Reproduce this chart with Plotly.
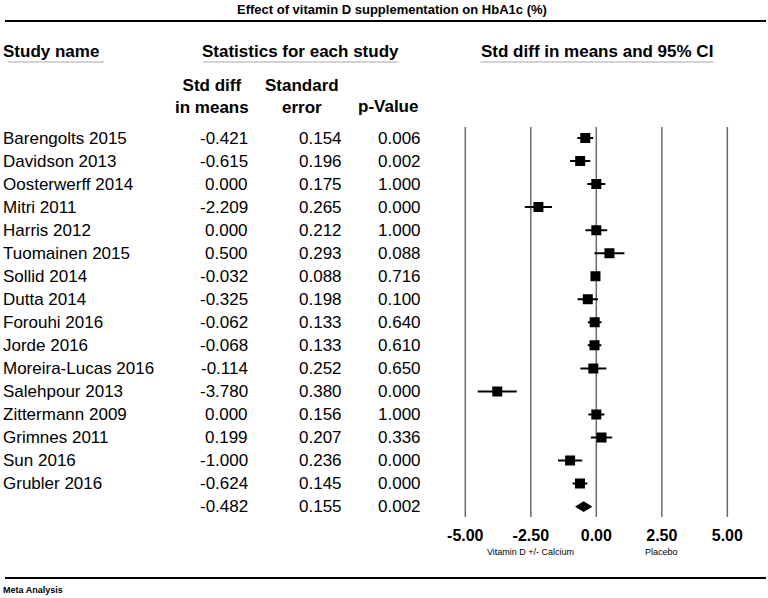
import plotly.graph_objects as go

# ---------------- data ----------------
studies = ["Barengolts 2015", "Davidson 2013", "Oosterwerff 2014", "Mitri 2011",
           "Harris 2012", "Tuomainen 2015", "Sollid 2014", "Dutta 2014",
           "Forouhi 2016", "Jorde 2016", "Moreira-Lucas 2016", "Salehpour 2013",
           "Zittermann 2009", "Grimnes 2011", "Sun 2016", "Grubler 2016"]
smd = [-0.421, -0.615, 0.000, -2.209, 0.000, 0.500, -0.032, -0.325,
       -0.062, -0.068, -0.114, -3.780, 0.000, 0.199, -1.000, -0.624]
se = [0.154, 0.196, 0.175, 0.265, 0.212, 0.293, 0.088, 0.198,
      0.133, 0.133, 0.252, 0.380, 0.156, 0.207, 0.236, 0.145]
pval = [0.006, 0.002, 1.000, 0.000, 1.000, 0.088, 0.716, 0.100,
        0.640, 0.610, 0.650, 0.000, 1.000, 0.336, 0.000, 0.000]
summary_smd = -0.482
summary_se = 0.155
summary_p = 0.002
tick_vals = [-5, -2.5, 0, 2.5, 5]
tick_text = ["-5.00", "-2.50", "0.00", "2.50", "5.00"]
left_label = "Vitamin D +/- Calcium"
right_label = "Placebo"
title_text = "Effect of vitamin D supplementation on HbA1c (%)"
footer_text = "Meta Analysis"

W, H = 768, 598
FONT = "Liberation Sans, Arial, sans-serif"
Z = 1.96

rows = list(range(1, len(studies) + 1))
sum_row = len(studies) + 1


def py(p):  # pixel y -> paper y
    return 1 - p / H


def px(p):  # pixel x -> paper x
    return p / W


fig = go.Figure()

# CI lines + squares
fig.add_trace(go.Scatter(
    x=smd, y=rows, mode="markers",
    marker=dict(symbol="square", size=10, color="black"),
    error_x=dict(type="data", array=[Z * s for s in se], color="black",
                 thickness=2, width=0),
    showlegend=False, hoverinfo="skip"))

# summary diamond
lo = summary_smd - Z * summary_se
hi = summary_smd + Z * summary_se
h = 0.21
fig.add_trace(go.Scatter(
    x=[lo, summary_smd, hi, summary_smd, lo],
    y=[sum_row, sum_row - h, sum_row, sum_row + h, sum_row],
    mode="lines", fill="toself", fillcolor="black",
    line=dict(color="black", width=1), showlegend=False, hoverinfo="skip"))

shapes = []
# vertical reference lines
for v in tick_vals:
    shapes.append(dict(type="line", xref="x", yref="y", x0=v, x1=v,
                       y0=0.52, y1=17.45, line=dict(color="#6a6a6a", width=1.5),
                       layer="below"))
# top & bottom rules
shapes.append(dict(type="line", xref="paper", yref="paper", x0=0, x1=1,
                   y0=py(21), y1=py(21), line=dict(color="black", width=2)))
shapes.append(dict(type="line", xref="paper", yref="paper", x0=0, x1=1,
                   y0=py(578), y1=py(578), line=dict(color="black", width=2)))
# header underlines
for a, b in [(3, 100), (200, 397), (480, 715)]:
    shapes.append(dict(type="line", xref="paper", yref="paper", x0=px(a), x1=px(b),
                       y0=py(62), y1=py(62), line=dict(color="#c4c4c4", width=1.5)))

ann = []


def text(x, y, t, size=17, bold=False, anchor="left", xref="paper", yref="paper"):
    ann.append(dict(x=x, y=y, xref=xref, yref=yref, text=f"<b>{t}</b>" if bold else t,
                    showarrow=False, xanchor=anchor, yanchor="middle",
                    font=dict(family=FONT, size=size, color="black")))


NX = -4
text(px(391), py(10), title_text, size=13, bold=True, anchor="center")
text(px(NX), py(51), "Study name", bold=True)
text(px(298), py(51), "Statistics for each study", bold=True, anchor="center")
text(px(597), py(51), "Std diff in means and 95% CI", bold=True, anchor="center")
text(px(209), py(96), "Std diff<br>in means", bold=True, anchor="center")
text(px(300), py(96), "Standard<br>error", bold=True, anchor="center")
text(px(387), py(106), "p-Value", bold=True, anchor="center")

for r, name, m, s, p in zip(rows, studies, smd, se, pval):
    text(px(NX), r, name, yref="y")
    text(px(247), r, f"{m:.3f}", anchor="right", yref="y")
    text(px(342), r, f"{s:.3f}", anchor="right", yref="y")
    text(px(422), r, f"{p:.3f}", anchor="right", yref="y")
text(px(247), sum_row, f"{summary_smd:.3f}", anchor="right", yref="y")
text(px(342), sum_row, f"{summary_se:.3f}", anchor="right", yref="y")
text(px(422), sum_row, f"{summary_p:.3f}", anchor="right", yref="y")

text(-2.5, py(552), left_label, size=9, anchor="center", xref="x")
text(2.5, py(552), right_label, size=9, anchor="center", xref="x")
text(px(NX), py(590), footer_text, size=9, bold=True)

fig.update_layout(
    width=W, height=H, margin=dict(l=0, r=0, t=0, b=0),
    paper_bgcolor="white", plot_bgcolor="white",
    xaxis=dict(domain=[451.3 / W, 742.2 / W], range=[-5.5, 5.5],
               anchor="free", position=py(524),
               tickmode="array", tickvals=tick_vals,
               ticktext=[f"<b>{t}</b>" for t in tick_text],
               tickfont=dict(family=FONT, size=16, color="black"),
               showgrid=False, zeroline=False, showline=False, ticks="",
               fixedrange=True),
    yaxis=dict(domain=[0, 1], range=[1 + (H - 138) / 23.04, 1 - 138 / 23.04],
               visible=False, showgrid=False, zeroline=False, fixedrange=True),
    shapes=shapes, annotations=ann, showlegend=False,
)

fig.write_html("out.html", config={"displayModeBar": False},
               post_script="document.body.style.margin='0';"
                           "document.body.style.overflow='hidden';")
